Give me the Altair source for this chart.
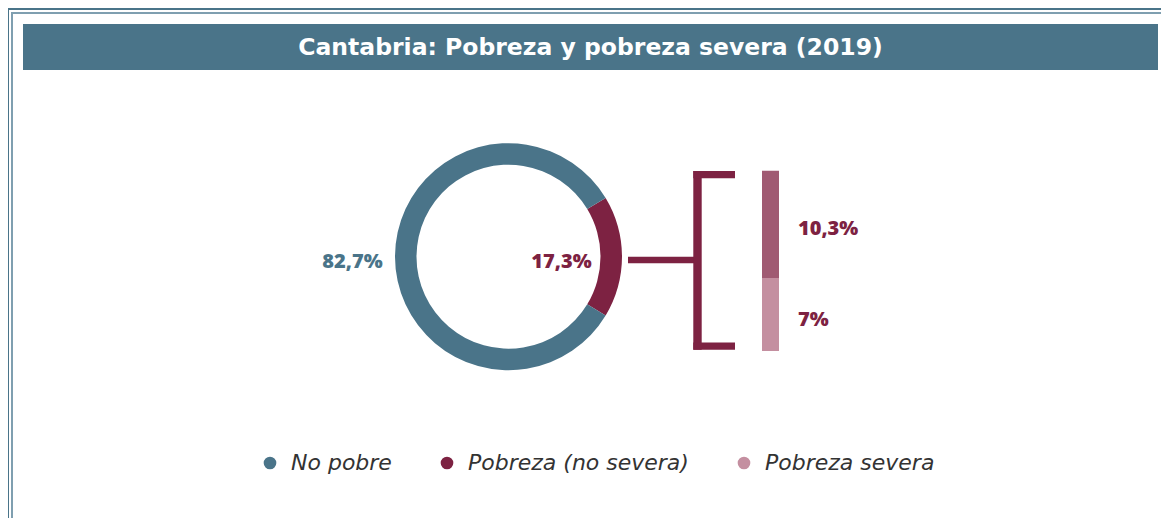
import math
import altair as alt
import pandas as pd

TITLE = "Cantabria: Pobreza y pobreza severa (2019)"

# Donut data (first row is drawn first, centred on the right side)
donut_cats = ["Pobreza (no severa)", "No pobre"]
donut_vals = [17.3, 82.7]
donut_labels = ["17,3%", "82,7%"]

# Stacked bar breakdown (bottom first)
bar_cats = ["Pobreza severa", "Pobreza (no severa)"]
bar_vals = [7.0, 10.3]
bar_labels = ["7%", "10,3%"]

legend_cats = ["No pobre", "Pobreza (no severa)", "Pobreza severa"]

BLUE = "#4a7489"
RED = "#7d2242"
MID = "#a05a72"
PINK = "#c48fa0"
FONT = "Open Sans"

W, H = 1153, 510
CX, CY = 500.5, 248.7
R_OUT, R_IN = 113.5, 92

donut_df = pd.DataFrame({"cat": donut_cats, "val": donut_vals,
                         "label": donut_labels, "idx": list(range(len(donut_cats)))})
bar_df = pd.DataFrame({"bcat": bar_cats, "val": bar_vals,
                       "label": bar_labels, "idx": list(range(len(bar_cats)))})

total = sum(donut_vals)
start = math.pi / 2 - math.pi * donut_vals[0] / total
theta_scale = alt.Scale(domain=[0, total], range=[start, start + 2 * math.pi], nice=False)

dummy = pd.DataFrame({"d": [0]})


def box(x, x2, y, y2, color):
    return alt.Chart(dummy).mark_rect(color=color).encode(
        x=alt.value(x), x2=alt.value(x2), y=alt.value(y), y2=alt.value(y2))


# frame
frame = [
    box(0, W, 0, 2, BLUE),
    box(0, 1, 0, H, BLUE),
    box(3, W, 4, 6, "#7f9fb0"),
    box(3, 5, 4, H, "#7f9fb0"),
]
# title bar
title_bar = box(15, 1150, 16, 62, BLUE)
title_text = alt.Chart(dummy).mark_text(
    text=TITLE, font="DejaVu Sans", fontSize=23.5, fontWeight="bold", color="white",
    align="center", baseline="middle").encode(x=alt.value(582.5), y=alt.value(39.5))

# bracket connector
bracket = [
    box(620, 689, 248.7, 255.3, RED),
    box(685.3, 693.7, 163, 341.7, RED),
    box(685.3, 727, 163, 170.3, RED),
    box(685.3, 727, 334.4, 341.7, RED),
]

base = alt.Chart(donut_df).encode(
    theta=alt.Theta("val:Q", stack=True, scale=theta_scale),
    order=alt.Order("idx:Q"),
    x=alt.value(CX), y=alt.value(CY),
)

arcs = base.mark_arc(innerRadius=R_IN, outerRadius=R_OUT, stroke=None).encode(
    color=alt.Color(
        "cat:N",
        scale=alt.Scale(domain=legend_cats, range=[BLUE, RED, PINK]),
        legend=alt.Legend(
            orient="none", legendX=251, legendY=444, direction="horizontal",
            title=None, symbolType="circle", symbolSize=160, symbolStrokeWidth=0,
            symbolOpacity=1, labelFont="DejaVu Sans", labelFontSize=22,
            labelFontStyle="italic", labelFontWeight=200, labelColor="#333333",
            labelOffset=10, columnPadding=44, labelLimit=0,
        ),
    )
)

lab_out = base.mark_text(radius=156, font=FONT, fontSize=20, fontWeight=800,
                         color=BLUE, dy=5, align="center", baseline="middle").encode(
    detail="cat:N",
    text=alt.condition("datum.cat == 'No pobre'", alt.Text("label:N"), alt.value("")),
)
lab_in = base.mark_text(radius=53, font=FONT, fontSize=20, fontWeight=800,
                        color=RED, dy=5, align="center", baseline="middle").encode(
    detail="cat:N",
    text=alt.condition("datum.cat != 'No pobre'", alt.Text("label:N"), alt.value("")),
)

ysc = alt.Scale(domain=[0, sum(bar_vals)], range=[343, 162.7], nice=False, zero=True)
bar_base = alt.Chart(bar_df).transform_stack(
    stack="val", as_=["y0", "y1"], groupby=[],
    sort=[alt.SortField("idx", order="ascending")],
).transform_calculate(mid="(datum.y0 + datum.y1) / 2")

bars = bar_base.mark_rect().encode(
    x=alt.value(754), x2=alt.value(771),
    y=alt.Y("y0:Q", scale=ysc, axis=None), y2="y1:Q",
    fill=alt.Fill("bcat:N", scale=alt.Scale(domain=bar_cats, range=[PINK, MID]), legend=None),
)
bar_text = bar_base.mark_text(align="left", baseline="middle", dy=5, font=FONT,
                              fontSize=20, fontWeight=800, color=RED).encode(
    x=alt.value(790), y=alt.Y("mid:Q", scale=ysc, axis=None), text="label:N",
)

chart = alt.layer(
    *frame, title_bar, title_text, *bracket, arcs, lab_out, lab_in, bars, bar_text
).properties(
    width=W, height=H, padding=0, autosize=alt.AutoSizeParams(type="none"),
).configure_view(strokeWidth=0)

chart.save("out.html", embed_options={"renderer": "svg", "actions": False})
